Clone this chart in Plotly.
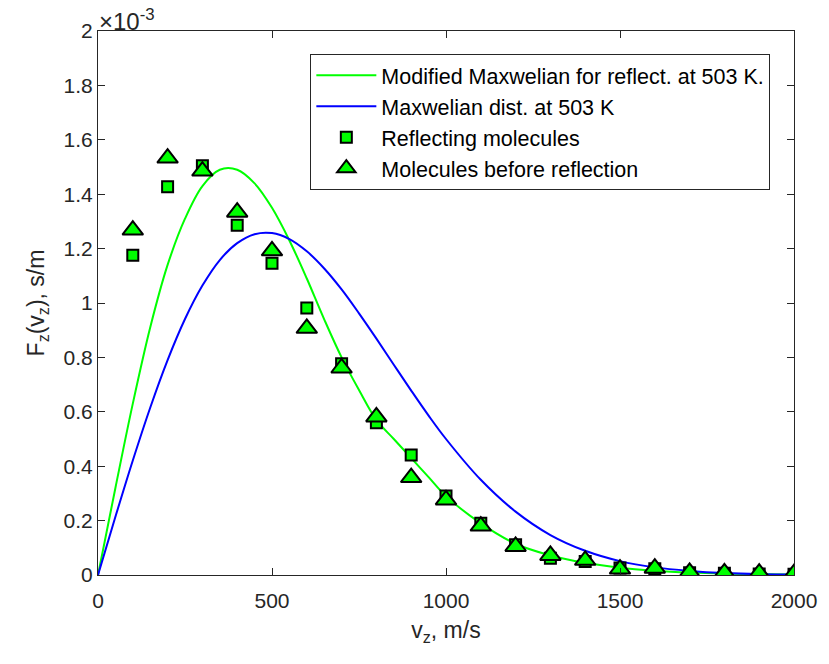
import plotly.graph_objects as go

# Speed grid (m/s) for the two theoretical curves
v_curve = [0, 50, 100, 150, 200, 250, 300, 350, 400, 450, 500, 550, 600, 650,
           700, 750, 800, 850, 900, 950, 1000, 1100, 1200, 1300, 1400, 1500,
           1600, 1700, 1800, 1900, 2000]

# Curve values in units of 1e-3 s/m
modified_maxwell = [0, 0.32, 0.63, 0.91, 1.14, 1.31, 1.43, 1.49, 1.49, 1.44,
                    1.35, 1.23, 1.09, 0.94, 0.80, 0.68, 0.57, 0.50, 0.43, 0.36,
                    0.29, 0.19, 0.115, 0.072, 0.045, 0.027, 0.016, 0.009,
                    0.005, 0.003, 0.002]
maxwell_503 = [0, 0.214, 0.421, 0.615, 0.790, 0.941, 1.064, 1.158, 1.220,
               1.253, 1.257, 1.235, 1.190, 1.127, 1.050, 0.962, 0.869, 0.773,
               0.678, 0.586, 0.500, 0.350, 0.233, 0.147, 0.089, 0.051, 0.028,
               0.015, 0.007, 0.003, 0.002]

# Simulated molecule speed bins (m/s) and distributions (1e-3 s/m)
v_bins = [100, 200, 300, 400, 500, 600, 700, 800, 900, 1000,
          1100, 1200, 1300, 1400, 1500, 1600, 1700, 1800, 1900, 2000]
reflecting = [1.176, 1.427, 1.505, 1.286, 1.146, 0.982, 0.777, 0.560, 0.441,
              0.290, 0.190, 0.111, 0.062, 0.050, 0.026, 0.023, 0.008, 0.006,
              0.004, 0.003]
before_reflection = [1.268, 1.533, 1.485, 1.334, 1.192, 0.907, 0.761, 0.581,
                     0.358, 0.276, 0.180, 0.105, 0.072, 0.054, 0.022, 0.025,
                     0.010, 0.008, 0.007, 0.005]

y_ticks = [0, 0.2, 0.4, 0.6, 0.8, 1.0, 1.2, 1.4, 1.6, 1.8, 2.0]
y_tick_text = ["0", "0.2", "0.4", "0.6", "0.8", "1", "1.2", "1.4", "1.6", "1.8", "2"]
x_ticks = [0, 500, 1000, 1500, 2000]

FONT = "Liberation Sans, Arial, Helvetica, sans-serif"
AX = "#262626"

fig = go.Figure()
fig.add_trace(go.Scatter(
    x=v_curve, y=modified_maxwell, mode="lines", line_shape="spline",
    line=dict(color="#00ff00", width=2), legendgroup="a",
    name="Modified Maxwelian for reflect. at 503 K."))
fig.add_trace(go.Scatter(
    x=v_curve, y=maxwell_503, mode="lines", line_shape="spline",
    line=dict(color="#0000ff", width=2), legendgroup="b",
    name="Maxwelian dist. at 503 K"))
fig.add_trace(go.Scatter(
    x=v_bins, y=reflecting, mode="markers", legendgroup="c",
    marker=dict(symbol="square", size=11, color="#00ff00",
                line=dict(color="black", width=2)),
    name="Reflecting molecules"))
fig.add_trace(go.Scatter(
    x=v_bins, y=before_reflection, mode="markers", legendgroup="d",
    marker=dict(symbol="triangle-up", size=18, color="#00ff00",
                line=dict(color="black", width=2)),
    name="Molecules before reflection"))

axis_common = dict(
    showline=True, linecolor=AX, linewidth=1, mirror="ticks",
    ticks="inside", ticklen=7, tickcolor=AX, tickwidth=1,
    showgrid=False, zeroline=False,
    tickfont=dict(family=FONT, size=21, color=AX),
)

fig.update_layout(
    width=829, height=664,
    margin=dict(l=98, r=27, t=31, b=89),
    paper_bgcolor="white", plot_bgcolor="white",
    font=dict(family=FONT, size=21, color=AX),
    showlegend=True,
    legend=dict(
        x=0.966, y=0.958, xanchor="right", yanchor="top",
        bgcolor="white", bordercolor=AX, borderwidth=1,
        font=dict(family=FONT, size=21.5, color="#000000"),
        itemwidth=60, tracegroupgap=0,
    ),
    xaxis=dict(range=[0, 2000], tickvals=x_ticks, ticklabelstandoff=7,
               title=dict(text="v<sub>z</sub>, m/s", standoff=10,
                          font=dict(family=FONT, size=23, color=AX)),
               **axis_common),
    yaxis=dict(range=[0, 2], tickvals=y_ticks, ticktext=y_tick_text,
               title=dict(text="F<sub>z</sub>(v<sub>z</sub>), s/m", standoff=12,
                          font=dict(family=FONT, size=23, color=AX)),
               **axis_common),
    annotations=[dict(
        text="\u00d710<sup>-3</sup>", xref="paper", yref="paper",
        x=0, y=1, xanchor="left", yanchor="bottom", showarrow=False,
        font=dict(family=FONT, size=24, color=AX), xshift=-1, yshift=-6)],
)

fig.write_html("out.html")
